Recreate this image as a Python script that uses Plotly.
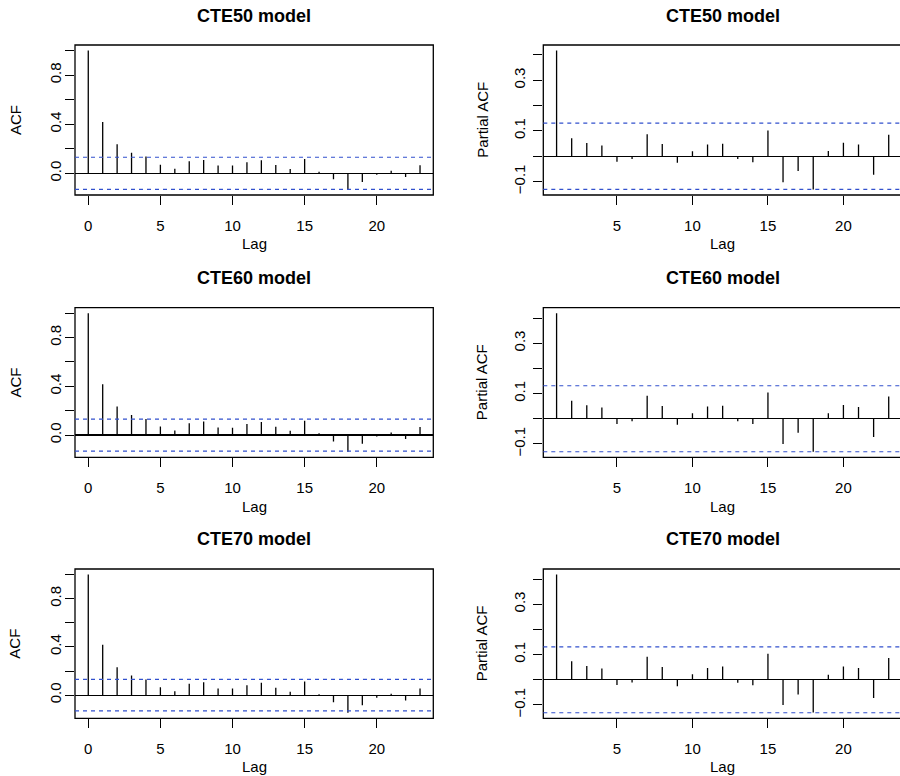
import plotly.graph_objects as go

# ---------------- data ----------------
titles = ["CTE50 model", "CTE60 model", "CTE70 model"]
acf_lags = list(range(0, 24))
pacf_lags = list(range(1, 24))

acf50 = [1.0, 0.418, 0.238, 0.167, 0.137, 0.071, 0.038, 0.098, 0.109, 0.063, 0.063, 0.090,
         0.107, 0.068, 0.036, 0.117, 0.014, -0.049, -0.131, -0.071, -0.011, 0.022, -0.030, 0.066]
acf60 = [1.0, 0.418, 0.235, 0.164, 0.131, 0.071, 0.038, 0.098, 0.112, 0.063, 0.060, 0.090,
         0.107, 0.068, 0.036, 0.117, 0.014, -0.052, -0.137, -0.071, -0.011, 0.022, -0.033, 0.066]
acf70 = [1.0, 0.417, 0.232, 0.163, 0.130, 0.066, 0.033, 0.094, 0.108, 0.055, 0.055, 0.083,
         0.102, 0.061, 0.028, 0.113, 0.008, -0.058, -0.146, -0.083, -0.022, 0.011, -0.044, 0.055]

pacf50 = [0.417, 0.071, 0.052, 0.042, -0.022, -0.011, 0.087, 0.048, -0.026, 0.020, 0.046, 0.049,
          -0.011, -0.024, 0.102, -0.103, -0.058, -0.131, 0.021, 0.053, 0.046, -0.073, 0.085]
pacf60 = [0.419, 0.072, 0.054, 0.045, -0.021, -0.010, 0.091, 0.051, -0.024, 0.022, 0.049, 0.052,
          -0.010, -0.021, 0.104, -0.100, -0.056, -0.131, 0.022, 0.055, 0.047, -0.072, 0.088]
pacf70 = [0.418, 0.074, 0.055, 0.045, -0.021, -0.011, 0.091, 0.051, -0.026, 0.022, 0.047, 0.053,
          -0.012, -0.022, 0.103, -0.100, -0.058, -0.130, 0.020, 0.053, 0.047, -0.072, 0.087]

ci = 0.131

acf_ticks = [0.0, 0.2, 0.4, 0.6, 0.8, 1.0]
acf_ticktext = ["0.0", "", "0.4", "", "0.8", ""]
pacf_ticks = [-0.1, 0.0, 0.1, 0.2, 0.3, 0.4]
pacf_ticktext = ["\u22120.1", "", "0.1", "", "0.3", ""]
acf_xticks = [0, 5, 10, 15, 20]
pacf_xticks = [5, 10, 15, 20]

# ---------------- layout geometry (pixels) ----------------
W, H = 900, 776
FONT = "Liberation Sans, Arial, Helvetica, sans-serif"
rows_px = [(45, 195), (307.7, 457.3), (569, 718.3)]
title_y = [16.3, 278.3, 539.3]
lag_y = [243.3, 506.7, 766.7]
left_px = (75, 433.3)
right_px = (543.3, 902.0)
blue = "rgb(50,80,205)"

fig = go.Figure()
shapes = []
annotations = []


def ext(lo, hi):
    d = (hi - lo) * 0.04
    return [lo - d, hi + d]


panels = []
acfs = [acf50, acf60, acf70]
pacfs = [pacf50, pacf60, pacf70]
idx = 1
for r in range(3):
    panels.append(("acf", r, acfs[r], idx)); idx += 1
    panels.append(("pacf", r, pacfs[r], idx)); idx += 1

for kind, r, vals, k in panels:
    lags = acf_lags if kind == "acf" else pacf_lags
    xs, ys = [], []
    for lg, v in zip(lags, vals):
        xs += [lg, lg, None]
        ys += [0, v, None]
    xa = "x" if k == 1 else f"x{k}"
    ya = "y" if k == 1 else f"y{k}"
    fig.add_trace(go.Scatter(x=xs, y=ys, mode="lines", line=dict(color="black", width=1.3),
                             xaxis=xa, yaxis=ya, showlegend=False, hoverinfo="skip",
                             cliponaxis=False))

    top, bot = rows_px[r]
    ydom = [1 - bot / H, 1 - top / H]
    if kind == "acf":
        xpx = left_px
        xr = ext(min(lags), max(lags))
        xdom = [xpx[0] / W, xpx[1] / W]
        yr = ext(min(-ci, min(vals)), max(ci, max(vals)))
        tv, tt, xt = acf_ticks, acf_ticktext, acf_xticks
        ylab, ylab_x = "ACF", 15
        ystand = -2
    else:
        xpx = right_px
        xr_full = ext(min(lags), max(lags))
        scale = (xpx[1] - xpx[0]) / (xr_full[1] - xr_full[0])
        xr = [xr_full[0], xr_full[0] + (W - xpx[0]) / scale]
        xdom = [xpx[0] / W, 1.0]
        yr = ext(min(-ci, min(vals)), max(ci, max(vals)))
        tv, tt, xt = pacf_ticks, pacf_ticktext, pacf_xticks
        ylab, ylab_x = "Partial ACF", 481.7
        ystand = 2

    axis_common = dict(showgrid=False, ticks="outside", ticklen=9, tickwidth=1,
                       tickcolor="black", showline=False,
                       tickfont=dict(family=FONT, size=15, color="black"))
    fig.layout[f"xaxis{k if k > 1 else ''}"] = dict(
        domain=xdom, range=xr, anchor=ya, tickvals=xt, zeroline=False,
        ticklabelstandoff=8, **axis_common)
    fig.layout[f"yaxis{k if k > 1 else ''}"] = dict(
        domain=ydom, range=yr, anchor=xa, tickvals=tv, ticktext=tt, tickangle=-90,
        zeroline=True, zerolinecolor="black", zerolinewidth=1.2,
        ticklabelstandoff=ystand, **axis_common)

    # frame box
    shapes.append(dict(type="rect", xref="paper", yref="paper",
                       x0=xpx[0] / W, x1=xpx[1] / W, y0=ydom[0], y1=ydom[1],
                       line=dict(color="black", width=1.3), layer="above"))
    # confidence bounds
    for c in (ci, -ci):
        shapes.append(dict(type="line", xref=f"{xa} domain", yref=ya, x0=0, x1=1, y0=c, y1=c,
                           line=dict(color=blue, width=1.2, dash="4px,4px")))
    # title
    cx = (xpx[0] + xpx[1]) / 2 / W
    annotations.append(dict(text=f"<b>{titles[r]}</b>", xref="paper", yref="paper",
                            x=cx, y=1 - title_y[r] / H, showarrow=False,
                            xanchor="center", yanchor="middle",
                            font=dict(family=FONT, size=18, color="black")))
    annotations.append(dict(text="Lag", xref="paper", yref="paper",
                            x=cx, y=1 - lag_y[r] / H, showarrow=False,
                            xanchor="center", yanchor="middle",
                            font=dict(family=FONT, size=15, color="black")))
    annotations.append(dict(text=ylab, xref="paper", yref="paper", textangle=-90,
                            x=ylab_x / W, y=1 - (top + bot) / 2 / H, showarrow=False,
                            xanchor="center", yanchor="middle",
                            font=dict(family=FONT, size=15, color="black")))

fig.update_layout(width=W, height=H, margin=dict(l=0, r=0, t=0, b=0),
                  paper_bgcolor="white", plot_bgcolor="white",
                  shapes=shapes, annotations=annotations, showlegend=False)
fig.write_html("out.html", config={"displayModeBar": False, "staticPlot": True},
               post_script="document.body.style.margin='0';document.body.style.overflow='hidden';")
